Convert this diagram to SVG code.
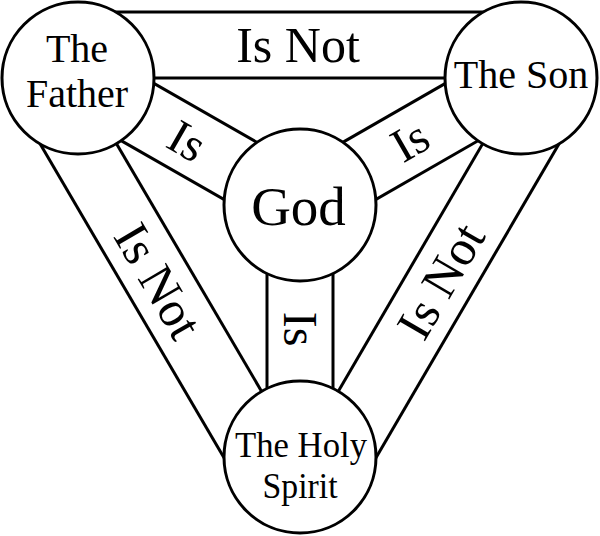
<svg xmlns="http://www.w3.org/2000/svg" width="600" height="536" viewBox="0 0 600 536">
<style>
.edge{stroke:#000;stroke-width:3;fill:none;stroke-linecap:butt}
.node{fill:#fff;stroke:#000;stroke-width:3}
.t{font-family:"Liberation Serif","Times New Roman",serif;fill:#000;text-anchor:middle}
.name{font-size:40px}
.hs{font-size:36px}
.god{font-size:55px}
.lab{font-size:48px}
.labn{font-size:50px}
</style>
<rect width="600" height="536" fill="#fff"/>
<g id="connectors">
  <line class="edge" x1="78" y1="12" x2="521" y2="12"/>
  <line class="edge" x1="78" y1="78" x2="521" y2="78"/>
  <line class="edge" x1="21.05" y1="111.36" x2="243.05" y2="490.36"/>
  <line class="edge" x1="78" y1="78" x2="300" y2="457"/>
  <line class="edge" x1="578.02" y1="111.25" x2="357.02" y2="490.25"/>
  <line class="edge" x1="521" y1="78" x2="300" y2="457"/>
  <line class="edge" x1="61.61" y1="106.64" x2="283.61" y2="233.64"/>
  <line class="edge" x1="94.39" y1="49.36" x2="316.39" y2="176.36"/>
  <line class="edge" x1="537.44" y1="106.61" x2="316.44" y2="233.61"/>
  <line class="edge" x1="504.56" y1="49.39" x2="283.56" y2="176.39"/>
  <line class="edge" x1="267" y1="205" x2="267" y2="457"/>
  <line class="edge" x1="333" y1="205" x2="333" y2="457"/>
  <text class="t labn" x="298" y="62">Is Not</text>
  <text class="t labn" transform="translate(158,281) rotate(59.65)" x="0" y="16.5">Is Not</text>
  <text class="t labn" transform="translate(441,281) rotate(-59.75)" x="0" y="16.5">Is Not</text>
  <text class="t lab" transform="translate(187,141) rotate(29.8)" x="0" y="16">Is</text>
  <text class="t lab" transform="translate(410,141) rotate(-29.9)" x="0" y="16">Is</text>
  <text class="t lab" transform="translate(300,329) rotate(90)" x="0" y="16">Is</text>
</g>
<g id="father">
  <circle class="node" cx="78" cy="78" r="76"/>
  <text class="t name" x="77" y="62">The</text>
  <text class="t name" x="77" y="107">Father</text>
</g>
<g id="son">
  <circle class="node" cx="521" cy="78" r="76"/>
  <text class="t name" x="521" y="88">The Son</text>
</g>
<g id="god">
  <circle class="node" cx="300" cy="205" r="76"/>
  <text class="t god" x="298.5" y="225">God</text>
</g>
<g id="spirit">
  <circle class="node" cx="300" cy="457" r="76"/>
  <text class="t hs" x="301" y="457" textLength="132" lengthAdjust="spacingAndGlyphs">The Holy</text>
  <text class="t hs" x="300" y="498" textLength="75" lengthAdjust="spacingAndGlyphs">Spirit</text>
</g>
</svg>
